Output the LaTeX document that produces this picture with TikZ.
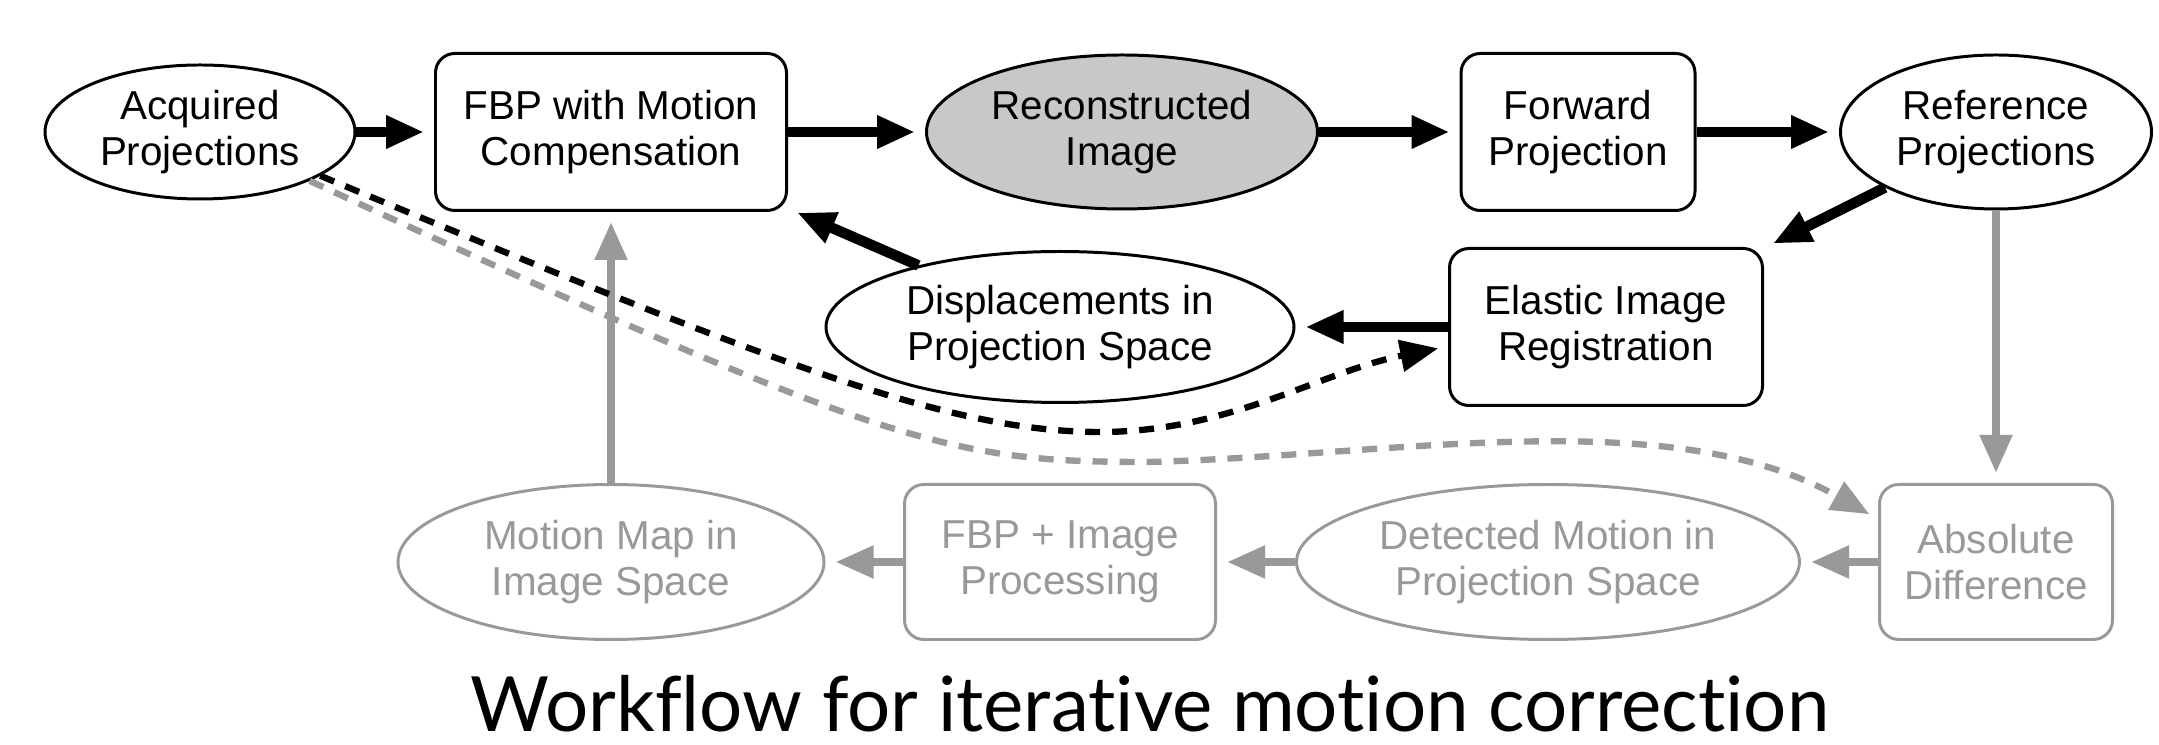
\documentclass[tikz,border=0pt]{standalone}
\usepackage{fontspec}
\setmainfont{Liberation Sans}
\newfontfamily\titlefont[Ligatures=NoCommon]{Lato}
\usetikzlibrary{shapes.geometric, arrows.meta}
\definecolor{lightgrey}{RGB}{153,153,153}
\definecolor{reconfill}{RGB}{200,200,200}

\begin{document}
\begin{tikzpicture}[
    oval/.style={ellipse, draw=#1, text=#1, line width=0.85pt, inner sep=0pt, align=center, font=\fontsize{11.5}{13}\selectfont, execute at begin node=\rule{0pt}{9.7pt}},
    oval/.default=black,
    box/.style={draw=#1, text=#1, line width=0.85pt, rounded corners=5.5pt, inner sep=0pt, align=center, font=\fontsize{11.5}{13}\selectfont, execute at begin node=\rule{0pt}{9.7pt}},
    box/.default=black,
    arrow/.style={-{Triangle[length=0.38cm, width=0.31cm]}, line width=3pt, draw=#1, shorten >=0.1cm},
    arrow/.default=black,
    greyarrow/.style={arrow=lightgrey, line width=2.3pt},
    dasharrow/.style={arrow=#1, line width=1.8pt, dash pattern=on 0.15cm off 0.12cm},
    dasharrow/.default=black
]
    \useasboundingbox (0,0) rectangle (21.59,7.45);

    % Top row
    \node[oval, minimum width=3.10cm, minimum height=1.34cm] (acquired) at (2.00,6.13) {Acquired\\Projections};
    \node[box, minimum width=3.51cm, minimum height=1.57cm] (fbpmc) at (6.11,6.13) {FBP with Motion\\Compensation};
    \node[oval, fill=reconfill, minimum width=3.91cm, minimum height=1.54cm] (recon) at (11.22,6.13) {Reconstructed\\Image};
    \node[box, minimum width=2.34cm, minimum height=1.57cm] (forward) at (15.78,6.13) {Forward\\Projection};
    \node[oval, minimum width=3.11cm, minimum height=1.54cm] (reference) at (19.96,6.13) {Reference\\Projections};

    % Middle row
    \node[oval, minimum width=4.68cm, minimum height=1.51cm] (displace) at (10.60,4.18) {Displacements in\\Projection Space};
    \node[box, minimum width=3.13cm, minimum height=1.57cm] (elastic) at (16.06,4.18) {Elastic Image\\Registration};

    % Bottom row (grey)
    \node[oval=lightgrey, minimum width=4.26cm, minimum height=1.55cm] (motionmap) at (6.11,1.83) {Motion Map in\\Image Space};
    \node[box=lightgrey, minimum width=3.11cm, minimum height=1.55cm] (fbpimg) at (10.60,1.83) {FBP + Image\\Processing};
    \node[oval=lightgrey, minimum width=5.03cm, minimum height=1.55cm] (detected) at (15.48,1.83) {Detected Motion in\\Projection Space};
    \node[box=lightgrey, minimum width=2.33cm, minimum height=1.55cm] (absdiff) at (19.96,1.83) {Absolute\\Difference};

    % Title
    \node[font=\titlefont\fontsize{21.7}{24}\selectfont, inner sep=0pt, anchor=base] (title) at (11.50,0.13) {Workflow for iterative motion correction};

    % Main arrows
    \draw[arrow] (acquired) -- (fbpmc);
    \draw[arrow] (fbpmc) -- (recon);
    \draw[arrow] (recon) -- (forward);
    \draw[arrow] (forward) -- (reference);
    \draw[arrow] (reference) -- (elastic);
    \draw[arrow] (elastic) -- (displace);
    \draw[arrow] (displace) -- (fbpmc);

    % Grey arrows
    \draw[greyarrow] (reference) -- (absdiff);
    \draw[greyarrow] (absdiff) -- (detected);
    \draw[greyarrow] (detected) -- (fbpimg);
    \draw[greyarrow] (fbpimg) -- (motionmap);
    \draw[greyarrow] (motionmap) -- (fbpmc);

    % Dashed arrows
    \draw[dasharrow=lightgrey] (acquired.-24) .. controls (8.90,2.96) and (9.50,2.83) .. (11.50,2.83) .. controls (14.00,2.90) and (16.71,3.42) .. (absdiff.160);
    \draw[dasharrow] (acquired.-20) .. controls (7.75,3.80) and (9.50,3.13) .. (11.00,3.13) .. controls (12.30,3.13) and (13.20,3.73) .. (elastic.187);

\end{tikzpicture}
\end{document}
